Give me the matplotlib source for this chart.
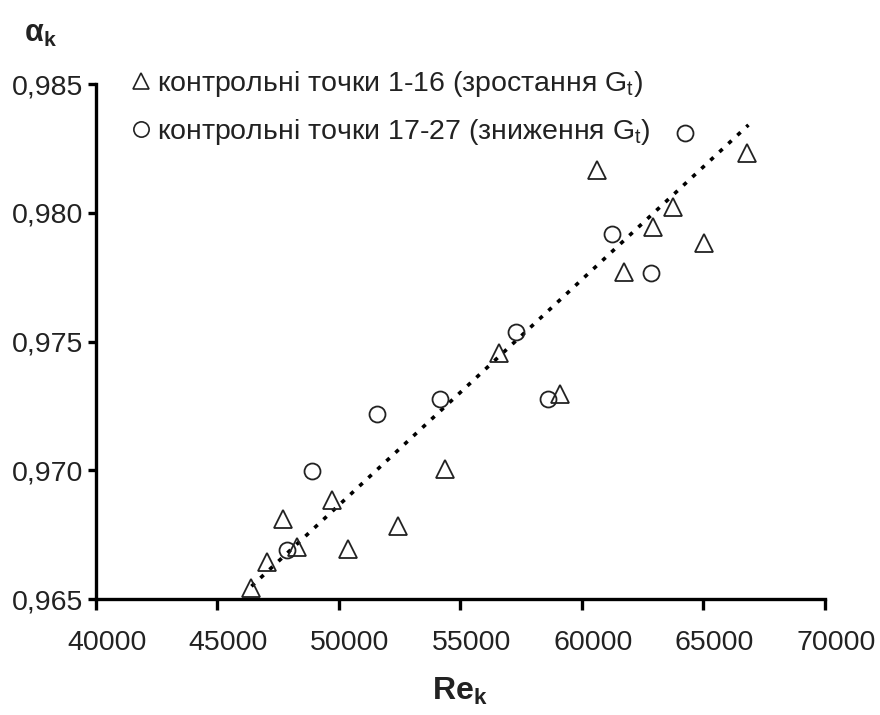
import matplotlib
matplotlib.use('Agg')
import matplotlib.pyplot as plt
from matplotlib.lines import Line2D
from matplotlib.transforms import ScaledTranslation

plt.rcParams['font.family'] = ['Liberation Sans', 'DejaVu Sans']
plt.rcParams['mathtext.fontset'] = 'custom'
plt.rcParams['mathtext.rm'] = 'Liberation Sans'
plt.rcParams['mathtext.it'] = 'Liberation Sans:italic'
plt.rcParams['mathtext.bf'] = 'Liberation Sans:bold'

# control points 1-16 (G_t rising)
tri_re = [46380, 47030, 48280, 47710, 49700, 50380, 52440, 54360,
          56600, 59100, 60630, 66780, 63760, 62910, 65020, 61730]
tri_a = [0.96543, 0.96645, 0.96703, 0.96813, 0.96884, 0.96693, 0.96783, 0.97004,
         0.97454, 0.97295, 0.98166, 0.98231, 0.98021, 0.97943, 0.97881, 0.97769]

# control points 17-27 (G_t falling)
circ_re = [47850, 48900, 51580, 54160, 57280, 58590, 64240, 61220, 62830]
circ_a = [0.96690, 0.96997, 0.97218, 0.97279, 0.97536, 0.97279, 0.98308, 0.97917, 0.97765]

# trend line
trend_re = [46400, 66850]
trend_a = [0.96550, 0.98341]

xticks = [40000, 45000, 50000, 55000, 60000, 65000, 70000]
yticks = [0.965, 0.970, 0.975, 0.980, 0.985]
ytick_labels = ['0,965', '0,970', '0,975', '0,980', '0,985']

fig = plt.figure(figsize=(8.8, 7.15), dpi=100)
ax = fig.add_axes([0.109, 0.162, 0.8285, 0.7205])

ax.plot(trend_re, trend_a, color='black', lw=2.6, linestyle=(0, (1.2, 2.2)))
ax.plot(tri_re, tri_a, linestyle='none', marker='^', ms=13, mfc='none', mec='#222222', mew=1.3)
ax.plot(circ_re, circ_a, linestyle='none', marker='o', ms=11.5, mfc='none', mec='#222222', mew=1.3)

ax.set_xlim(40000, 70000)
ax.set_ylim(0.965, 0.985)
ax.set_xticks(xticks)
ax.set_xticklabels([str(v) for v in xticks])
ax.set_yticks(yticks)
ax.set_yticklabels(ytick_labels)

for s in ['top', 'right']:
    ax.spines[s].set_visible(False)
for s in ['left', 'bottom']:
    ax.spines[s].set_linewidth(2.4)
    ax.spines[s].set_capstyle('projecting')
ax.tick_params(axis='x', length=8, width=2.4, pad=14, labelsize=20.5, colors='black', labelcolor='#222222')
ax.tick_params(axis='y', length=6, width=2.4, pad=3, labelsize=20.5, colors='black', labelcolor='#222222')

# x tick labels sit a little to the right of their ticks in the original
shift = ScaledTranslation(0.11, 0, fig.dpi_scale_trans)
for lab in ax.get_xticklabels():
    lab.set_transform(lab.get_transform() + shift)

fig.text(0.523, 0.033, r'$\mathbf{Re}_\mathbf{k}$', fontsize=23, ha='center', va='center', color='#222222')
fig.text(0.046, 0.952, r'$\mathbf{\alpha}_\mathbf{k}$', fontsize=22, ha='center', va='center', color='#222222')

handles = [
    Line2D([], [], linestyle='none', marker='^', ms=12, mfc='none', mec='#222222', mew=1.2),
    Line2D([], [], linestyle='none', marker='o', ms=11, mfc='none', mec='#222222', mew=1.2),
]
labels = ['контрольні точки 1-16 (зростання G$_\\mathrm{t}$)',
          'контрольні точки 17-27 (зниження G$_\\mathrm{t}$)']
fig.legend(handles, labels, loc='center left', bbox_to_anchor=(0.138, 0.849),
           frameon=False, fontsize=20.5, handlelength=0.6, handletextpad=0.25,
           labelspacing=0.65, labelcolor='#222222', borderaxespad=0)

fig.savefig('out.png', dpi=100)
